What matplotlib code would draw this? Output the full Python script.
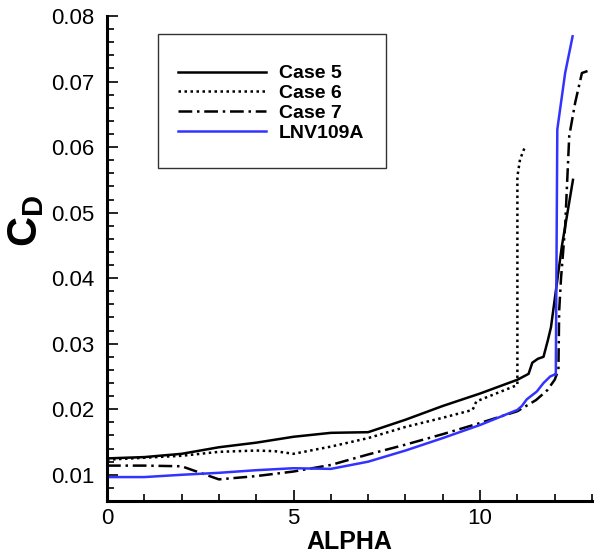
import numpy as np
import matplotlib
matplotlib.use("Agg")
import matplotlib.pyplot as plt
from matplotlib.patches import Rectangle
from matplotlib.ticker import MultipleLocator, FormatStrFormatter

plt.rcParams['font.family'] = ['Liberation Sans', 'DejaVu Sans']
plt.rcParams['mathtext.fontset'] = 'custom'
plt.rcParams['mathtext.rm'] = 'Liberation Sans:bold'

# drag coefficient vs angle of attack
alpha5 = [0, 1, 2, 3, 4, 5, 6, 7, 8, 9, 10, 11, 11.3, 11.4, 11.55, 11.7, 11.82, 11.9, 12.19, 12.49]
cd5 = [0.0125, 0.0127, 0.0132, 0.0142, 0.0149, 0.0158, 0.0164, 0.0165, 0.0184, 0.0205,
       0.0224, 0.0245, 0.0254, 0.0271, 0.0277, 0.0280, 0.0306, 0.0325, 0.0448, 0.0550]

alpha6 = [0, 1, 2, 3, 4, 4.5, 5, 6, 7, 8, 9, 9.8, 9.9, 11, 11.0, 11.07, 11.2]
cd6 = [0.0123, 0.0126, 0.0129, 0.0135, 0.0137, 0.0136, 0.0132, 0.0143, 0.0156, 0.0173,
       0.0187, 0.0199, 0.0212, 0.0237, 0.0555, 0.0581, 0.0600]

alpha7 = [0, 1, 2, 3, 4, 5, 6, 7, 8, 9, 10, 11, 11.5, 11.8, 12.0, 12.1, 12.12, 12.17,
          12.28, 12.39, 12.55, 12.73, 12.88]
cd7 = [0.0114, 0.0114, 0.0113, 0.0093, 0.0098, 0.0105, 0.0115, 0.0131, 0.0146, 0.0162,
       0.0179, 0.0197, 0.0214, 0.0229, 0.0245, 0.0260, 0.0350, 0.0400, 0.0479, 0.0617,
       0.0668, 0.0713, 0.0716]

alpha_lnv = [0, 1, 2, 3, 4, 5, 6, 7, 8, 9, 10, 11, 11.12, 11.25, 11.52, 11.7, 11.88,
             12.0, 12.03, 12.07, 12.28, 12.48]
cd_lnv = [0.00965, 0.00965, 0.0100, 0.0103, 0.0107, 0.0110, 0.0109, 0.0120, 0.0137,
          0.0156, 0.0176, 0.0199, 0.0205, 0.0215, 0.0227, 0.0240, 0.0250, 0.0253,
          0.0253, 0.0627, 0.0713, 0.0769]

labels = ['Case 5', 'Case 6', 'Case 7', 'LNV109A']

fig = plt.figure(figsize=(6, 5.58), dpi=100)
ax = fig.add_axes([107/600, 1 - 501/558, 485/600, 485/558])

lw = 1.8
ax.plot(alpha5, cd5, color='black', lw=lw, label=labels[0])
ax.plot(alpha6, cd6, color='black', lw=lw, linestyle=(0, (1, 1.4)), label=labels[1])
ax.plot(alpha7, cd7, color='black', lw=lw, linestyle=(0, (5.5, 1.9, 1.0, 1.9)), label=labels[2])
ax.plot(alpha_lnv, cd_lnv, color='#3333ff', lw=lw, label=labels[3])

ax.set_xlim(0, 13)
ax.set_ylim(0.006, 0.08)
ax.xaxis.set_major_locator(MultipleLocator(5))
ax.xaxis.set_minor_locator(MultipleLocator(1))
ax.yaxis.set_minor_locator(MultipleLocator(0.002))
ax.yaxis.set_major_formatter(FormatStrFormatter('%.2f'))
ax.set_yticks(np.arange(0.01, 0.0801, 0.01))

for s in ['top', 'right']:
    ax.spines[s].set_visible(False)
for s in ['left', 'bottom']:
    ax.spines[s].set_linewidth(2.2)

ax.tick_params(which='both', direction='in', width=1.2)
ax.tick_params(which='major', length=8, labelsize=16)
ax.tick_params(axis='y', which='major', pad=9)
ax.tick_params(axis='x', which='major', pad=5)
ax.tick_params(which='minor', length=5)

ax.set_xlabel('ALPHA', fontsize=18, fontweight='bold')
ax.xaxis.set_label_coords(0.5, -0.06)
ax.xaxis.label.set_va('top')
ax.set_ylabel(r'$\mathrm{C_D}$', fontsize=30)
ax.yaxis.set_label_coords(-0.125, 0.577)

# legend box drawn separately so its padding matches the reference
fig.patches.append(Rectangle((158/600, 1 - 168/558), 228/600, 134/558,
                             transform=fig.transFigure, fill=False,
                             edgecolor='#333333', lw=1.0))
ax.legend(loc='upper left', bbox_to_anchor=(168/600, 1 - 55/558),
          bbox_transform=fig.transFigure, frameon=False, borderpad=0,
          handlelength=88/19.4, handletextpad=0.65, labelspacing=0.12,
          prop={'size': 14, 'weight': 'bold'})

fig.savefig('out.png', dpi=100)
